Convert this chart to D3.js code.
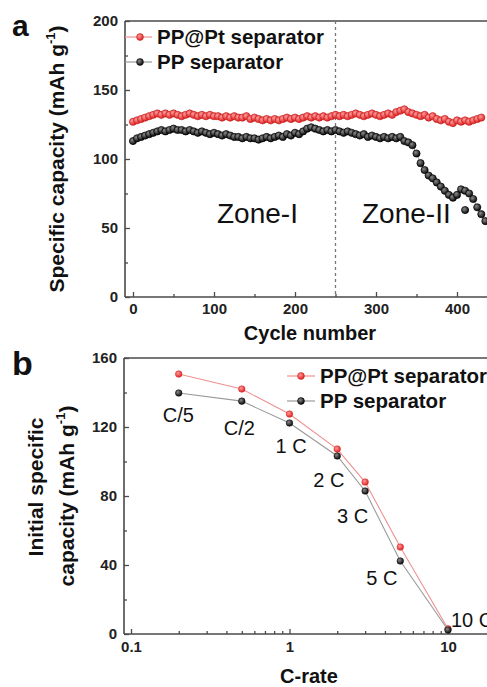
<!DOCTYPE html>
<html>
<head>
<meta charset="utf-8">
<script src="https://cdn.jsdelivr.net/npm/d3@7"></script>
<style>
  body { margin: 0; background: #fff; }
  text { font-family: "Liberation Sans", Arial, sans-serif; }
</style>
</head>
<body>
<svg id="chart" width="487" height="687"></svg>
<script>
// ---- panel a data: capacity vs cycle (every 5th cycle) ----
const cycleNums = [0,5,10,15,20,25,30,35,40,45,50,55,60,65,70,75,80,85,90,95,
  100,105,110,115,120,125,130,135,140,145,150,155,160,165,170,175,180,185,190,195,
  200,205,210,215,220,225,230,235,240,245,250,255,260,265,270,275,280,285,290,295,
  300,305,310,315,320,325,330,335,340,345,350,355,360,365,370,375,380,385,390,395,
  400,405,410,415,420,425,430,435];

const ptCapacity = [127,128,129,130,131,132,133,132,133,132,
  133,132,131,132,133,132,131,132,131,132,
  131,131,130,131,130,131,130,130,131,129,
  130,129,128,129,128,129,128,129,130,129,
  130,129,130,131,130,131,130,131,130,131,
  132,131,132,131,132,133,132,131,132,133,
  132,131,132,133,132,134,135,136,134,133,
  132,131,132,130,131,129,128,129,127,126,
  128,127,128,127,128,129,130];

const ppCapacity = [113,115,116,117,118,119,120,121,120,121,
  122,121,121,120,121,120,119,120,119,118,
  119,118,117,118,117,116,116,115,116,115,
  115,114,115,116,115,116,117,116,118,117,
  119,118,120,122,123,122,121,120,121,120,
  121,120,119,120,119,118,117,118,116,117,
  116,115,116,115,116,115,116,113,112,110,
  104,97,92,88,86,83,80,77,74,72,
  74,78,77,75,71,65,60,55];

const ppOutlierCycle = [410];
const ppOutlierCap = [63];

const cycleTicks = [0, 100, 200, 300, 400];
const capTicksA = [0, 50, 100, 150, 200];
const zoneBorder = 250;
const zoneNames = ["Zone-I", "Zone-II"];

// ---- panel b data: initial capacity vs C-rate ----
const cRates = [0.2, 0.5, 1, 2, 3, 5, 10];
const rateNames = ["C/5", "C/2", "1 C", "2 C", "3 C", "5 C", "10 C"];
const ptInitial = [150.7, 142, 127.5, 107.2, 88.1, 50.4, 3];
const ppInitial = [139.7, 135, 122.3, 103.2, 82.9, 42.3, 2.3];
const rateTicks = [0.1, 1, 10];
const capTicksB = [0, 40, 80, 120, 160];

const seriesNames = ["PP@Pt separator", "PP separator"];

// ---- styling ----
const W = 487;
const axisColor = "#4a4a4a";
const redFill = "#e8302e", redLine = "#f09090";
const blackFill = "#111", blackLine = "#9a9a9a";

const svg = d3.select("#chart");
svg.append("rect").attr("width", W).attr("height", 687).attr("fill", "#fff");

const defs = svg.append("defs");
function ballGrad(id, hi, base) {
  const g = defs.append("radialGradient").attr("id", id)
    .attr("cx", "38%").attr("cy", "35%").attr("r", "65%");
  g.append("stop").attr("offset", "0%").attr("stop-color", hi);
  g.append("stop").attr("offset", "100%").attr("stop-color", base);
}
ballGrad("ballRed", "#ff9a9a", "#e02424");
ballGrad("ballBlack", "#8a8a8a", "#0a0a0a");

function frame(left, bottom, top) {
  const f = svg.append("g").attr("stroke", axisColor).attr("stroke-width", 1.6);
  f.append("line").attr("x1", left).attr("x2", left).attr("y1", top).attr("y2", bottom);
  f.append("line").attr("x1", left).attr("x2", W).attr("y1", bottom).attr("y2", bottom);
  f.append("line").attr("x1", left).attr("x2", W).attr("y1", top).attr("y2", top);
}

function styleAxis(g) {
  g.select(".domain").remove();
  g.selectAll("line").attr("stroke", axisColor).attr("stroke-width", 1.3);
  g.selectAll("text").attr("font-size", 15).attr("font-weight", "bold")
    .attr("fill", "#222").style("font-family", '"Liberation Sans", Arial, sans-serif');
}

function legendItem(x1, x2, mx, y, lineC, grad, stroke, label) {
  svg.append("line").attr("x1", x1).attr("x2", x2).attr("y1", y).attr("y2", y)
    .attr("stroke", lineC).attr("stroke-width", 1.2);
  svg.append("circle").attr("cx", mx).attr("cy", y).attr("r", 3.4)
    .attr("fill", grad).attr("stroke", stroke).attr("stroke-width", 0.6);
  svg.append("text").attr("x", x2 + 5).attr("y", y).attr("dy", "0.36em")
    .attr("font-size", 20.5).attr("font-weight", "bold").attr("fill", "#111").text(label);
}

function yTitle(x, y, pre) {
  const t = svg.append("text").attr("transform", `translate(${x},${y}) rotate(-90)`)
    .attr("text-anchor", "middle").attr("font-size", 21).attr("font-weight", "bold").attr("fill", "#111");
  t.append("tspan").text(pre);
  t.append("tspan").attr("font-size", 13).attr("dy", -9).text("-1");
  t.append("tspan").attr("dy", 9).text(")");
}

// =================== panel a ===================
const leftA = 125, bottomA = 297, topA = 21;
const xA = d3.scaleLinear().domain([0, 400]).range([133, 457]);
const yA = d3.scaleLinear().domain([0, 200]).range([bottomA, topA]);

frame(leftA, bottomA, topA);

svg.append("g").attr("transform", `translate(0,${bottomA})`)
  .call(d3.axisBottom(xA).tickValues(cycleTicks).tickSize(-5).tickPadding(6))
  .call(styleAxis);
svg.append("g").attr("transform", `translate(0,${bottomA})`)
  .call(d3.axisBottom(xA).tickValues([50, 150, 250, 350, 450]).tickSize(-3).tickFormat(""))
  .call(styleAxis);
svg.append("g").attr("transform", `translate(${leftA},0)`)
  .call(d3.axisLeft(yA).tickValues(capTicksA).tickSize(-5).tickPadding(7))
  .call(styleAxis);
svg.append("g").attr("transform", `translate(${leftA},0)`)
  .call(d3.axisLeft(yA).tickValues([25, 75, 125, 175]).tickSize(-3).tickFormat(""))
  .call(styleAxis);

// zone divider
svg.append("line").attr("x1", xA(zoneBorder)).attr("x2", xA(zoneBorder))
  .attr("y1", topA).attr("y2", bottomA)
  .attr("stroke", "#777").attr("stroke-width", 1.3).attr("stroke-dasharray", "3,3");

svg.append("text").attr("x", 217).attr("y", 223).attr("font-size", 28).attr("fill", "#111").text(zoneNames[0]);
svg.append("text").attr("x", 362).attr("y", 223).attr("font-size", 28).attr("fill", "#111").text(zoneNames[1]);

function cycleSeries(caps, lineC, grad, stroke) {
  const pts = caps.map((c, i) => [cycleNums[i], c]);
  svg.append("path").datum(pts)
    .attr("d", d3.line().x(d => xA(d[0])).y(d => yA(d[1])))
    .attr("fill", "none").attr("stroke", lineC).attr("stroke-width", 1);
  svg.append("g").selectAll("circle").data(pts).enter().append("circle")
    .attr("cx", d => xA(d[0])).attr("cy", d => yA(d[1])).attr("r", 3.6)
    .attr("fill", grad).attr("stroke", stroke).attr("stroke-width", 0.7);
}
cycleSeries(ptCapacity, redLine, "url(#ballRed)", "#c41e1e");
cycleSeries(ppCapacity, blackLine, "url(#ballBlack)", "#000");
svg.append("g").selectAll("circle").data(ppOutlierCycle).enter().append("circle")
  .attr("cx", d => xA(d)).attr("cy", (d, i) => yA(ppOutlierCap[i])).attr("r", 3.6)
  .attr("fill", "url(#ballBlack)").attr("stroke", "#000").attr("stroke-width", 0.7);

legendItem(leftA, 152, 140, 37, redLine, "url(#ballRed)", "#c41e1e", seriesNames[0]);
legendItem(leftA, 152, 140, 62, blackLine, "url(#ballBlack)", "#000", seriesNames[1]);

svg.append("text").attr("x", 310).attr("y", 340).attr("text-anchor", "middle")
  .attr("font-size", 20).attr("font-weight", "bold").attr("fill", "#111").text("Cycle number");
yTitle(64, 159, "Specific capacity (mAh g");

svg.append("text").attr("x", 12).attr("y", 36).attr("font-size", 30).attr("font-weight", "bold")
  .attr("fill", "#111").text("a");

// =================== panel b ===================
const leftB = 124, bottomB = 634, topB = 358;
const xB = d3.scaleLog().domain([0.1, 10]).range([131, 448]);
const yB = d3.scaleLinear().domain([0, 160]).range([bottomB, topB]);

frame(leftB, bottomB, topB);

svg.append("g").attr("transform", `translate(0,${bottomB})`)
  .call(d3.axisBottom(xB).tickValues(rateTicks).tickSize(-5).tickPadding(7).tickFormat(d => String(d)))
  .call(styleAxis);
svg.append("g").attr("transform", `translate(0,${bottomB})`)
  .call(d3.axisBottom(xB).tickValues([0.2,0.3,0.4,0.5,0.6,0.7,0.8,0.9,2,3,4,5,6,7,8,9,20]).tickSize(-3).tickFormat(""))
  .call(styleAxis);
svg.append("g").attr("transform", `translate(${leftB},0)`)
  .call(d3.axisLeft(yB).tickValues(capTicksB).tickSize(-5).tickPadding(7))
  .call(styleAxis);
svg.append("g").attr("transform", `translate(${leftB},0)`)
  .call(d3.axisLeft(yB).tickValues([20, 60, 100, 140]).tickSize(-3).tickFormat(""))
  .call(styleAxis);

function rateSeries(caps, lineC, grad, stroke) {
  const pts = caps.map((c, i) => [cRates[i], c]);
  svg.append("path").datum(pts)
    .attr("d", d3.line().x(d => xB(d[0])).y(d => yB(d[1])))
    .attr("fill", "none").attr("stroke", lineC).attr("stroke-width", 1.1);
  svg.append("g").selectAll("circle").data(pts).enter().append("circle")
    .attr("cx", d => xB(d[0])).attr("cy", d => yB(d[1])).attr("r", 3.3)
    .attr("fill", grad).attr("stroke", stroke).attr("stroke-width", 0.5);
}
rateSeries(ptInitial, redLine, "url(#ballRed)", "#d42020");
rateSeries(ppInitial, blackLine, "url(#ballBlack)", "#000");

// rate labels, nudged from the PP points
const nudge = [[-16, 29], [-18, 34], [-14, 30], [-24, 31], [-28, 32], [-34, 24], [3, -3]];
svg.append("g").selectAll("text").data(rateNames).enter().append("text")
  .attr("x", (d, i) => xB(cRates[i]) + nudge[i][0])
  .attr("y", (d, i) => yB(ppInitial[i]) + nudge[i][1])
  .attr("font-size", 20).attr("fill", "#111").text(d => d);

legendItem(287, 315, 301, 376, redLine, "url(#ballRed)", "#d42020", seriesNames[0]);
legendItem(287, 315, 301, 401, blackLine, "url(#ballBlack)", "#000", seriesNames[1]);

svg.append("text").attr("x", 309).attr("y", 683).attr("text-anchor", "middle")
  .attr("font-size", 20).attr("font-weight", "bold").attr("fill", "#111").text("C-rate");

svg.append("text").attr("transform", "translate(43,487) rotate(-90)").attr("text-anchor", "middle")
  .attr("font-size", 21).attr("font-weight", "bold").attr("fill", "#111").text("Initial specific");
yTitle(74, 496, "capacity (mAh g");

svg.append("text").attr("x", 12).attr("y", 375).attr("font-size", 34).attr("font-weight", "bold")
  .attr("fill", "#111").text("b");
</script>
</body>
</html>
